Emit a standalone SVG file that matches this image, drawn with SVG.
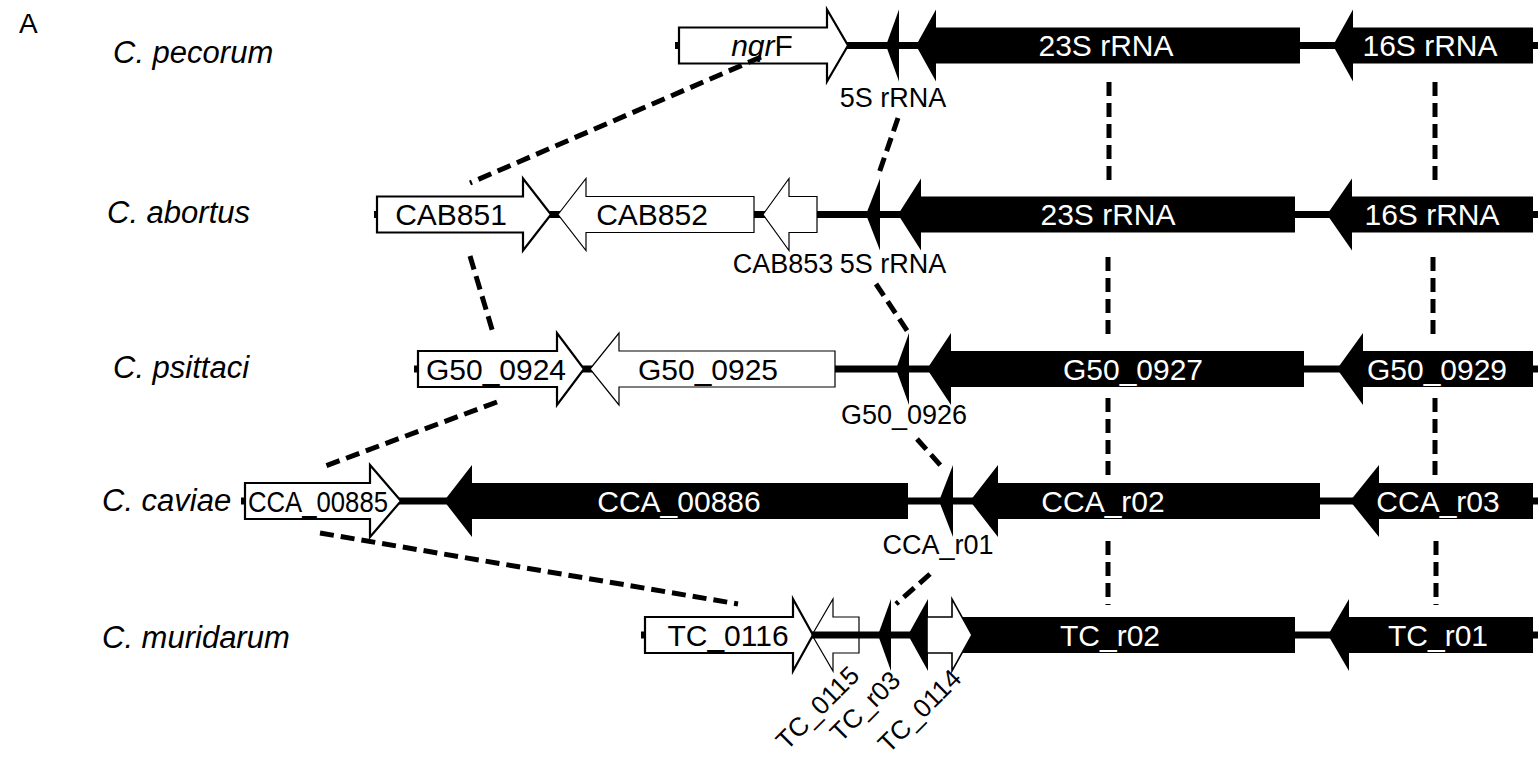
<svg xmlns="http://www.w3.org/2000/svg" width="1538" height="757" viewBox="0 0 1538 757">
<style>
text { font-family: "Liberation Sans", Arial, sans-serif; }
.sp { font-size: 31px; font-style: italic; }
.lw { font-size: 30px; fill: #fff; text-anchor: middle; }
.lk { font-size: 30px; fill: #000; text-anchor: middle; }
.lb { font-size: 27px; fill: #000; text-anchor: middle; }
.lr { font-size: 26px; fill: #000; text-anchor: end; }
.w { fill: #fff; stroke: #000; stroke-width: 2.2; }
.wt { fill: #fff; stroke: #000; stroke-width: 1.2; }
.b { fill: #000; }
.bb { stroke: #000; stroke-width: 7; }
.dash { stroke: #000; stroke-width: 5; stroke-dasharray: 14 7; fill: none; }
</style>
<rect width="1538" height="757" fill="#fff"/>
<text x="19" y="33" style="font-size:28px">A</text>

<g id="species-labels">
<text class="sp" x="113" y="63">C. pecorum</text>
<text class="sp" x="107" y="223">C. abortus</text>
<text class="sp" x="113" y="378">C. psittaci</text>
<text class="sp" x="102" y="511">C. caviae</text>
<text class="sp" x="102" y="648">C. muridarum</text>
</g>

<g id="backbones">
<line class="bb" x1="675" y1="45.5" x2="1538" y2="45.5"/>
<line class="bb" x1="374" y1="214.5" x2="1538" y2="214.5"/>
<line class="bb" x1="414" y1="369" x2="1538" y2="369"/>
<line class="bb" x1="241" y1="501" x2="1538" y2="501"/>
<line class="bb" x1="641" y1="635" x2="1538" y2="635"/>
</g>

<!-- Row 1: C. pecorum -->
<g id="nqrF">
<polygon class="w" points="679,27.5 827,27.5 827,9.5 848,45.5 827,81.5 827,63.5 679,63.5"/>
<text class="lk" x="762" y="56"><tspan font-style="italic">nqr</tspan>F</text>
</g>
<g id="pec-5S">
<polygon class="b" points="886,45.5 899,9.5 899,81.5"/>
<text class="lb" x="893" y="107">5S rRNA</text>
</g>
<g id="pec-23S">
<polygon class="b" points="916,45.5 936,9.5 936,27.5 1300,27.5 1300,63.5 936,63.5 936,81.5"/>
<text class="lw" x="1106" y="56">23S rRNA</text>
</g>
<g id="pec-16S">
<polygon class="b" points="1333,45.5 1353,9.5 1353,27.5 1533,27.5 1533,63.5 1353,63.5 1353,81.5"/>
<text class="lw" x="1430" y="56">16S rRNA</text>
</g>

<!-- Row 2: C. abortus -->
<g id="CAB851">
<polygon class="w" points="377,196.5 523,196.5 523,178.5 551,214.5 523,250.5 523,232.5 377,232.5"/>
<text class="lk" x="451" y="225">CAB851</text>
</g>
<g id="CAB852">
<polygon class="wt" points="558,214.5 586,178.5 586,196.5 754,196.5 754,232.5 586,232.5 586,250.5"/>
<text class="lk" x="652" y="225">CAB852</text>
</g>
<g id="CAB853">
<polygon class="wt" points="763,214.5 789,178.5 789,196.5 817,196.5 817,232.5 789,232.5 789,250.5"/>
<text class="lb" x="783" y="273">CAB853</text>
</g>
<g id="abo-5S">
<polygon class="b" points="866,214.5 880,178.5 880,250.5"/>
<text class="lb" x="893" y="273">5S rRNA</text>
</g>
<g id="abo-23S">
<polygon class="b" points="898,214.5 921,178.5 921,196.5 1295,196.5 1295,232.5 921,232.5 921,250.5"/>
<text class="lw" x="1108" y="225">23S rRNA</text>
</g>
<g id="abo-16S">
<polygon class="b" points="1327,214.5 1352,178.5 1352,196.5 1533,196.5 1533,232.5 1352,232.5 1352,250.5"/>
<text class="lw" x="1432" y="225">16S rRNA</text>
</g>

<!-- Row 3: C. psittaci -->
<g id="G50_0924">
<polygon class="w" points="418,351 557,351 557,333 584,369 557,405 557,387 418,387"/>
<text class="lk" x="496" y="380">G50_0924</text>
</g>
<g id="G50_0925">
<polygon class="wt" points="590,369 619,333 619,351 835,351 835,387 619,387 619,405"/>
<text class="lk" x="708" y="380">G50_0925</text>
</g>
<g id="G50_0926">
<polygon class="b" points="896,369 909,333 909,405"/>
<text class="lb" x="904" y="424">G50_0926</text>
</g>
<g id="G50_0927">
<polygon class="b" points="927,369 951,333 951,351 1304,351 1304,387 951,387 951,405"/>
<text class="lw" x="1133" y="380">G50_0927</text>
</g>
<g id="G50_0929">
<polygon class="b" points="1337,369 1363,333 1363,351 1533,351 1533,387 1363,387 1363,405"/>
<text class="lw" x="1437" y="380">G50_0929</text>
</g>

<!-- Row 4: C. caviae -->
<g id="CCA_00885">
<polygon class="w" points="245,483 370,483 370,465 401,501 370,537 370,519 245,519"/>
<text class="lk" x="318" y="512" textLength="140" lengthAdjust="spacingAndGlyphs">CCA_00885</text>
</g>
<g id="CCA_00886">
<polygon class="b" points="444,501 472,465 472,483 908,483 908,519 472,519 472,537"/>
<text class="lw" x="679" y="512">CCA_00886</text>
</g>
<g id="CCA_r01">
<polygon class="b" points="939,501 953,465 953,537"/>
<text class="lb" x="938" y="554">CCA_r01</text>
</g>
<g id="CCA_r02">
<polygon class="b" points="970,501 998,465 998,483 1320,483 1320,519 998,519 998,537"/>
<text class="lw" x="1103" y="512">CCA_r02</text>
</g>
<g id="CCA_r03">
<polygon class="b" points="1350,501 1379,465 1379,483 1533,483 1533,519 1379,519 1379,537"/>
<text class="lw" x="1438" y="512">CCA_r03</text>
</g>

<!-- Row 5: C. muridarum -->
<g id="TC_0116">
<polygon class="w" points="645,617 793,617 793,599 813,635 793,671 793,653 645,653"/>
<text class="lk" x="728" y="646">TC_0116</text>
</g>
<g id="TC_0115">
<polygon class="wt" points="812,635 833,599 833,617 859,617 859,653 833,653 833,671" fill-opacity="0"/>
<text class="lr" x="861" y="677" transform="rotate(-45 861 677)">TC_0115</text>
</g>
<g id="TC_r03">
<polygon class="b" points="878,635 891,599 891,671"/>
<text class="lr" x="902" y="682" transform="rotate(-45 902 682)">TC_r03</text>
</g>
<g id="TC_r02">
<polygon class="b" points="908,635 928,599 928,617 1295,617 1295,653 928,653 928,671"/>
<text class="lw" x="1110" y="646">TC_r02</text>
</g>
<g id="TC_0114">
<polygon class="wt" points="927,617 952,617 952,599 972,635 952,671 952,653 927,653" style="stroke-width:1.6"/>
<text class="lr" x="963" y="680" transform="rotate(-45 963 680)">TC_0114</text>
</g>
<g id="TC_r01">
<polygon class="b" points="1328,635 1349,599 1349,617 1533,617 1533,653 1349,653 1349,671"/>
<text class="lw" x="1438" y="646">TC_r01</text>
</g>

<g id="connectors">
<line class="dash" x1="761" y1="57" x2="470" y2="183"/>
<line class="dash" x1="898" y1="118" x2="878" y2="176"/>
<line class="dash" x1="1109" y1="82" x2="1109" y2="185"/>
<line class="dash" x1="1435" y1="82" x2="1435" y2="185"/>
<line class="dash" x1="470" y1="256" x2="494" y2="336"/>
<line class="dash" x1="876" y1="284" x2="908" y2="332"/>
<line class="dash" x1="1108" y1="257" x2="1108" y2="335"/>
<line class="dash" x1="1433" y1="257" x2="1433" y2="335"/>
<line class="dash" x1="497" y1="402" x2="320" y2="468"/>
<line class="dash" x1="917" y1="439" x2="941" y2="466"/>
<line class="dash" x1="1108" y1="398" x2="1108" y2="475"/>
<line class="dash" x1="1435" y1="398" x2="1435" y2="475"/>
<line class="dash" x1="320" y1="533" x2="738" y2="604"/>
<line class="dash" x1="930" y1="574" x2="896" y2="604"/>
<line class="dash" x1="1108" y1="541" x2="1108" y2="605"/>
<line class="dash" x1="1436" y1="541" x2="1436" y2="605"/>
</g>
</svg>
